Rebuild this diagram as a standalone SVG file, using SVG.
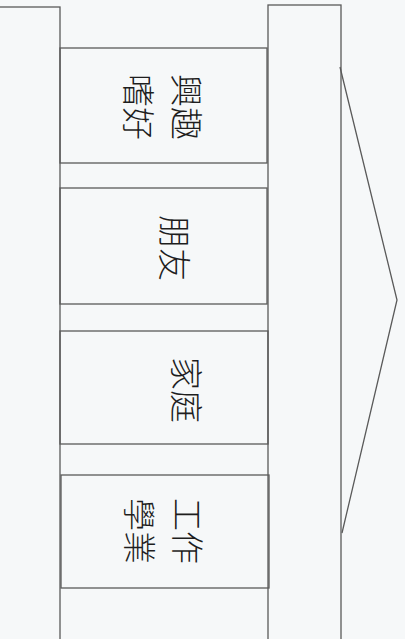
<svg xmlns="http://www.w3.org/2000/svg" width="405" height="639" viewBox="0 0 405 639">
<style>
.shape{fill:none;stroke:#5a5a5a;stroke-width:1.3}
.lbl{font-family:"Noto Sans CJK TC","Noto Sans CJK SC",sans-serif;font-size:33px;font-weight:300;fill:#1e1e1e;text-anchor:middle;dominant-baseline:central}
</style>
<rect x="0" y="0" width="405" height="639" fill="#f6f8f9"/>
<g id="foundation"><rect class="shape" x="-2" y="7" width="62" height="640"/></g>
<g id="roof-base"><rect class="shape" x="268" y="5" width="73" height="640"/></g>
<g id="roof"><polyline class="shape" points="340,67 397,300 342,533"/></g>
<g id="pillar-hobbies"><rect class="shape" x="60" y="48" width="207" height="115"/>
<text class="lbl" transform="translate(188,107) rotate(90)"><tspan x="0" y="0">興趣</tspan><tspan x="0" y="48">嗜好</tspan></text></g>
<g id="pillar-friends"><rect class="shape" x="60" y="188" width="207" height="116"/>
<text class="lbl" transform="translate(176,248) rotate(90)">朋友</text></g>
<g id="pillar-family"><rect class="shape" x="60" y="331" width="208" height="113"/>
<text class="lbl" transform="translate(188,390) rotate(90)">家庭</text></g>
<g id="pillar-work"><rect class="shape" x="61" y="475" width="208" height="113"/>
<text class="lbl" transform="translate(189,531) rotate(90)"><tspan x="0" y="0">工作</tspan><tspan x="0" y="48">學業</tspan></text></g>
<g id="connectors"></g>
</svg>
